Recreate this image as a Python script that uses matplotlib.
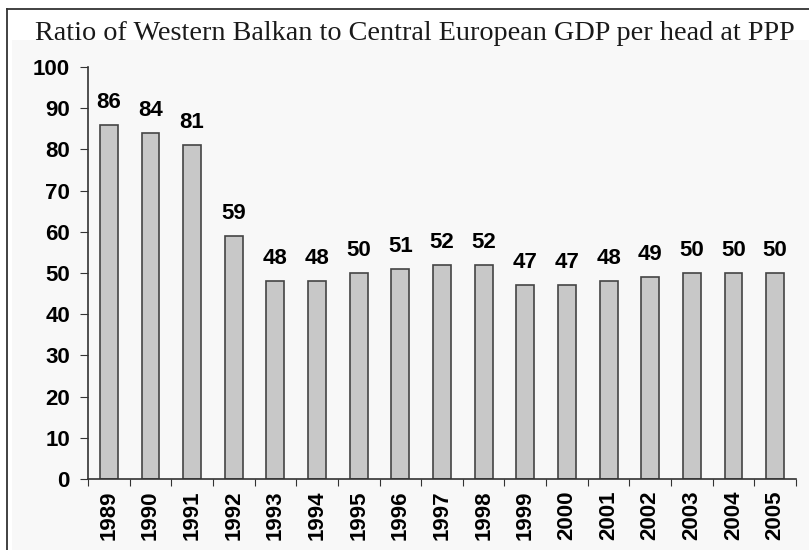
import matplotlib
matplotlib.use("Agg")
import matplotlib.pyplot as plt
from matplotlib.lines import Line2D
from matplotlib.patches import Rectangle

years = ["1989", "1990", "1991", "1992", "1993", "1994", "1995", "1996", "1997",
         "1998", "1999", "2000", "2001", "2002", "2003", "2004", "2005"]
values = [86, 84, 81, 59, 48, 48, 50, 51, 52, 52, 47, 47, 48, 49, 50, 50, 50]
title = "Ratio of Western Balkan to Central European GDP per head at PPP"
yticks = [0, 10, 20, 30, 40, 50, 60, 70, 80, 90, 100]

W, H = 809, 550
fig = plt.figure(figsize=(W / 100, H / 100), dpi=100)
fig.patch.set_facecolor("white")

# light background panel below title
fig.add_artist(Rectangle((12 / W, 0), 1 - 12 / W, 1 - 40 / H,
                         transform=fig.transFigure, facecolor="#f8f8f8",
                         edgecolor="none", zorder=-5))
# frame lines (left and top)
fig.add_artist(Line2D([7 / W, 7 / W], [0, 1 - 9 / H], transform=fig.transFigure,
                      color="#333333", lw=1.3, zorder=-4))
fig.add_artist(Line2D([7 / W, 1], [1 - 9 / H, 1 - 9 / H], transform=fig.transFigure,
                      color="#333333", lw=1.3, zorder=-4))

fig.text(415 / W, 1 - 34 / H, title, ha="center", va="center",
         family="Liberation Serif", fontsize=20.3, color="#1a1a1a")

ax = fig.add_axes([88 / W, 1 - 479 / H, (796 - 88) / W, (479 - 67) / H], zorder=2)
ax.set_facecolor("none")
x = list(range(len(years)))
bars = ax.bar(x, values, width=0.43, color="#c8c8c8", edgecolor="#444444", linewidth=1.2)

FS = 16
for xi, v in zip(x, values):
    ax.text(xi, v + 2.9, str(v), ha="center", va="bottom", family="Liberation Sans",
            fontweight="bold", fontsize=FS, color="black")

ax.set_xlim(-0.5, len(years) - 0.5)
ax.set_ylim(0, 100)
ax.set_yticks(yticks)
ax.set_yticklabels([str(t) for t in yticks], family="Liberation Sans",
                   fontweight="bold", fontsize=FS)
ax.set_xticks([i - 0.5 for i in range(len(years) + 1)])
ax.set_xticklabels([])
ax.set_xticks(x, minor=True)
ax.set_xticklabels(years, minor=True, rotation=90, family="Liberation Sans",
                   fontweight="bold", fontsize=FS)
ax.tick_params(axis="x", which="minor", length=0, pad=8)
ax.tick_params(axis="x", which="major", length=5, direction="out", color="#333333")
ax.tick_params(axis="y", length=6, direction="out", color="#333333", pad=7)

for s in ["top", "right"]:
    ax.spines[s].set_visible(False)
ax.spines["left"].set_color("#333333")
ax.spines["bottom"].set_color("#333333")
ax.spines["left"].set_linewidth(1.2)
ax.spines["bottom"].set_linewidth(1.2)

fig.savefig("out.png", dpi=100, facecolor=fig.get_facecolor())
